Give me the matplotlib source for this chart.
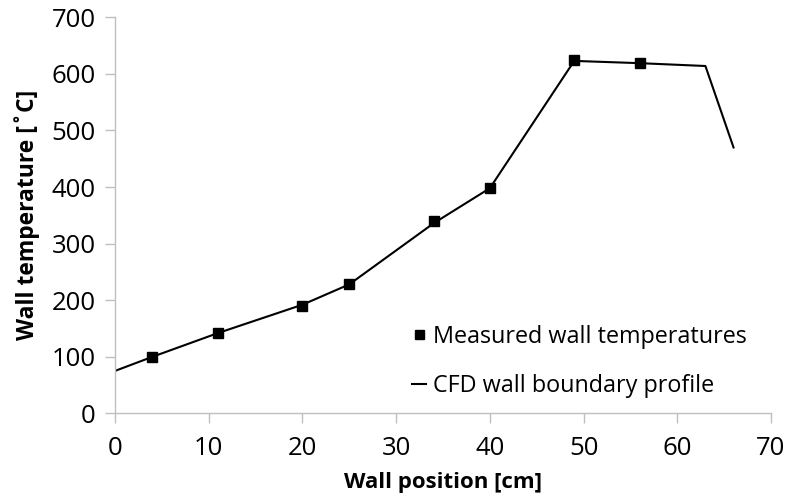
import matplotlib
matplotlib.use("Agg")
import matplotlib.pyplot as plt

# ── Data ──────────────────────────────────────────────────────────────────────
meas_pos  = [4, 11, 20, 25, 34, 40, 49, 56]
meas_temp = [100, 142, 190, 228, 340, 399, 625, 620]

cfd_pos  = [0, 4, 11, 20, 25, 34, 40, 49, 56, 63, 66]
cfd_temp = [75, 100, 142, 192, 228, 336, 398, 623, 619, 614, 470]

x_ticks = [0, 10, 20, 30, 40, 50, 60, 70]
y_ticks = [0, 100, 200, 300, 400, 500, 600, 700]

# ── Style ─────────────────────────────────────────────────────────────────────
plt.rcParams["font.family"] = ["Open Sans", "DejaVu Sans"]
GREY = "#bfbfbf"

fig = plt.figure(figsize=(7.87, 5.0), dpi=100)
ax = fig.add_axes([0.1461, 0.1733, 0.8336, 0.792])

ax.plot(cfd_pos, cfd_temp, color="black", linewidth=1.5,
        label="CFD wall boundary profile", zorder=2)
ax.plot(meas_pos, meas_temp, linestyle="none", marker="s", markersize=7.2,
        color="black", label="Measured wall temperatures", zorder=3)

ax.set_xlim(0, 70)
ax.set_ylim(0, 700)
ax.set_xticks(x_ticks)
ax.set_yticks(y_ticks)

for side in ("top", "right"):
    ax.spines[side].set_visible(False)
for side in ("left", "bottom"):
    ax.spines[side].set_color(GREY)
    ax.spines[side].set_linewidth(1.0)

ax.tick_params(axis="both", direction="out", length=7, width=1.0,
               color=GREY, labelsize=18.5, labelcolor="black")
ax.tick_params(axis="x", pad=9)
ax.tick_params(axis="y", pad=7)

ax.set_xlabel("Wall position [cm]", fontsize=16, fontweight="bold", labelpad=8)
ax.set_ylabel("Wall temperature [\u02daC]", fontsize=16.5, fontweight="bold", labelpad=8)

handles, labels = ax.get_legend_handles_labels()
leg = ax.legend(handles[::-1], labels[::-1], loc="lower right",
                bbox_to_anchor=(0.995, -0.015), frameon=False, fontsize=16.8,
                handlelength=0.6, handletextpad=0.3, labelspacing=1.1,
                markerscale=0.9)

fig.savefig("out.png", dpi=100)
